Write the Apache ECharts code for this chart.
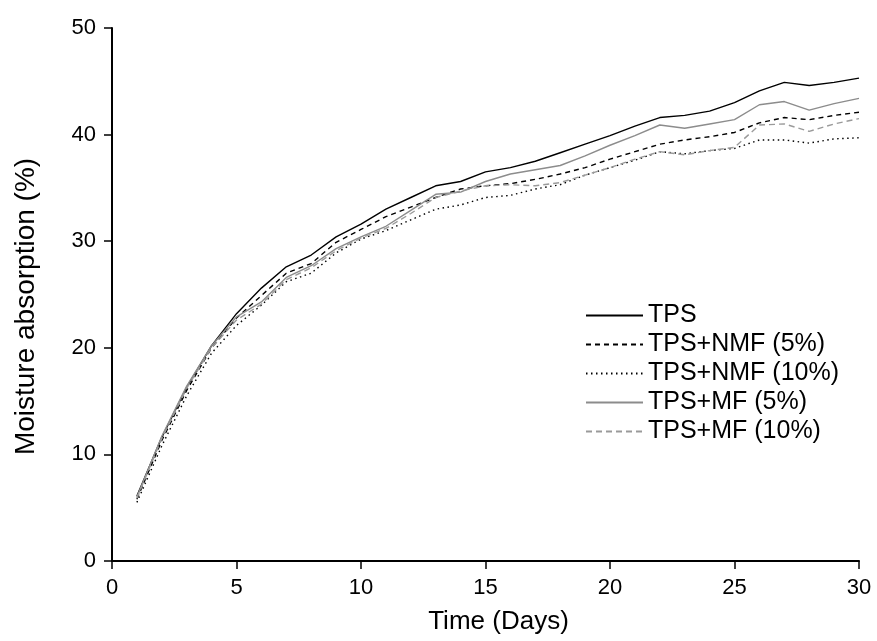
<!DOCTYPE html>
<html>
<head>
<meta charset="utf-8">
<script src="https://cdn.jsdelivr.net/npm/echarts@6/dist/echarts.min.js"></script>
<style>html,body{margin:0;padding:0;background:#fff;}#chart{width:877px;height:641px;}</style>
</head>
<body>
<div id="chart"></div>
<script>
const days = [1,2,3,4,5,6,7,8,9,10,11,12,13,14,15,16,17,18,19,20,21,22,23,24,25,26,27,28,29,30];
const xTicks = [0,5,10,15,20,25,30];
const yTicks = [0,10,20,30,40,50];
const seriesNames = ['TPS','TPS+NMF (5%)','TPS+NMF (10%)','TPS+MF (5%)','TPS+MF (10%)'];
const tps   = [6.1,11.6,16.3,20.2,23.2,25.6,27.6,28.7,30.4,31.6,33.0,34.1,35.2,35.6,36.5,36.9,37.5,38.3,39.1,39.9,40.8,41.6,41.8,42.2,43.0,44.1,44.9,44.6,44.9,45.3];
const nmf5  = [5.8,11.3,16.0,20.0,22.8,24.9,27.0,27.9,29.9,31.1,32.3,33.2,34.1,34.9,35.2,35.4,35.8,36.3,36.9,37.7,38.4,39.1,39.5,39.8,40.2,41.1,41.6,41.4,41.8,42.1];
const nmf10 = [5.5,10.8,15.5,19.5,22.1,24.0,26.2,27.0,28.9,30.2,31.0,32.0,33.0,33.4,34.1,34.3,34.9,35.3,36.2,36.9,37.6,38.4,38.2,38.5,38.7,39.5,39.5,39.2,39.6,39.7];
const mf5   = [6.0,11.7,16.4,20.2,22.9,24.3,26.6,27.7,29.3,30.4,31.4,32.9,34.4,34.6,35.6,36.3,36.7,37.1,38.0,39.0,39.9,40.9,40.6,41.0,41.4,42.8,43.1,42.3,42.9,43.4];
const mf10  = [5.9,11.5,16.2,20.0,22.6,24.1,26.4,27.5,29.1,30.3,31.2,32.6,34.1,34.7,35.2,35.3,35.2,35.5,36.2,36.9,37.7,38.4,38.1,38.5,38.8,40.9,41.0,40.3,41.0,41.5];

const values = [tps, nmf5, nmf10, mf5, mf10];
const styles = [
  {color:'#000000', type:'solid', width:1.4},
  {color:'#000000', type:[5,4], width:1.4},
  {color:'#000000', type:[1.5,3.5], width:1.4},
  {color:'#8c8c8c', type:'solid', width:1.4},
  {color:'#9a9a9a', type:[6,4], width:1.4}
];
const font = 'Liberation Sans, Arial, Helvetica, sans-serif';
const chart = echarts.init(document.getElementById('chart'));
chart.setOption({
  animation:false,
  backgroundColor:'#ffffff',
  grid:{left:112, right:18, top:28, bottom:80, containLabel:false},
  legend:{
    show:true, orient:'vertical', left:580, top:296, itemWidth:57, itemHeight:14, itemGap:0,
    data: seriesNames,
    itemStyle:{opacity:0},
    textStyle:{fontFamily:font, fontSize:25, color:'#000', lineHeight:29}
  },
  xAxis:{
    type:'value', min:0, max:30, interval:5,
    name:'Time (Days)', nameLocation:'middle', nameGap:48,
    nameTextStyle:{fontFamily:font, fontSize:26, color:'#000', padding:[0,0,0,26]},
    axisLine:{onZero:false, lineStyle:{color:'#000', width:2}},
    axisTick:{show:true, inside:false, length:8, lineStyle:{color:'#000', width:1.5}},
    axisLabel:{fontFamily:font, fontSize:22, color:'#000', margin:16, formatter: v => xTicks.includes(v) ? String(v) : ''},
    splitLine:{show:false}
  },
  yAxis:{
    type:'value', min:0, max:50, interval:10,
    name:'Moisture absorption (%)', nameLocation:'middle', nameGap:72,
    nameTextStyle:{fontFamily:font, fontSize:28, color:'#000', padding:[0,24,0,0]},
    axisLine:{show:true, lineStyle:{color:'#000', width:2}},
    axisTick:{show:true, inside:false, length:8, lineStyle:{color:'#000', width:1.5}},
    axisLabel:{fontFamily:font, fontSize:22, color:'#000', margin:16, formatter: v => yTicks.includes(v) ? String(v) : ''},
    splitLine:{show:false}
  },
  series: seriesNames.map((n,i)=>({
    name:n, type:'line', symbol:'none', smooth:false,
    data: days.map((d,j)=>[d, values[i][j]]),
    lineStyle: styles[i], itemStyle:{color:styles[i].color}
  }))
});
</script>
</body>
</html>
